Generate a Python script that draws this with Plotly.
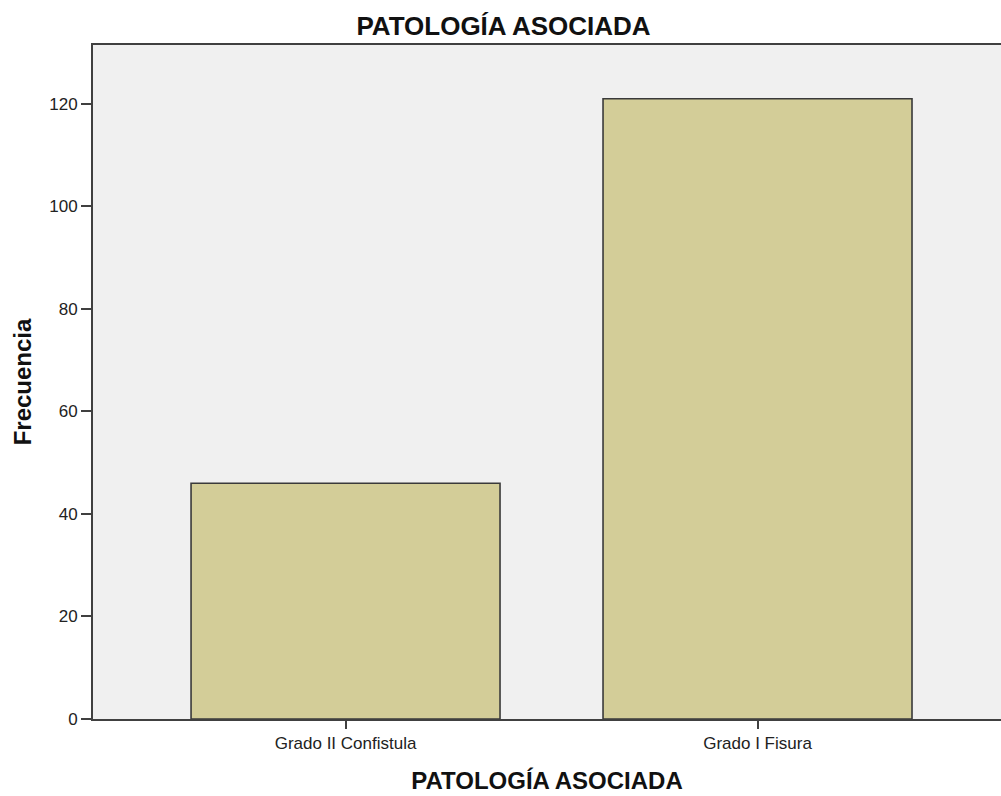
import plotly.graph_objects as go

# Frequency of associated pathology by grade
categorias = ["Grado II Confistula", "Grado I Fisura"]
frecuencias = [46, 121]
ticks_y = [0, 20, 40, 60, 80, 100, 120]

fig = go.Figure(
    go.Bar(
        x=categorias,
        y=frecuencias,
        width=0.75,
        marker=dict(color="#d3cd98", line=dict(color="#3a3a3a", width=1.6)),
        hoverinfo="x+y",
    )
)

font_family = "Liberation Sans, Arial, sans-serif"

fig.update_layout(
    width=1001,
    height=796,
    margin=dict(l=93, r=0, t=45, b=77),
    paper_bgcolor="white",
    plot_bgcolor="#f0f0f0",
    showlegend=False,
    title=dict(
        text="<b>PATOLOGÍA ASOCIADA</b>",
        x=0.503,
        xanchor="center",
        y=0.968,
        yanchor="middle",
        font=dict(family=font_family, size=26, color="#111111"),
    ),
    xaxis=dict(
        range=[-0.613, 1.591],
        showline=True,
        linecolor="#404040",
        linewidth=2,
        mirror=True,
        ticks="outside",
        ticklen=8,
        tickwidth=1.5,
        tickcolor="#404040",
        showgrid=False,
        tickfont=dict(family=font_family, size=17, color="#222222"),
        title=dict(
            text="<b>PATOLOGÍA ASOCIADA</b>",
            font=dict(family=font_family, size=24, color="#111111"),
            standoff=20,
        ),
    ),
    yaxis=dict(
        range=[0, 131.5],
        tickvals=ticks_y,
        showline=True,
        linecolor="#404040",
        linewidth=2,
        ticks="outside",
        ticklen=10,
        tickwidth=1.5,
        tickcolor="#404040",
        showgrid=False,
        zeroline=False,
        tickfont=dict(family=font_family, size=17, color="#222222"),
        title=dict(
            text="<b>Frecuencia</b>",
            font=dict(family=font_family, size=24, color="#111111"),
            standoff=11,
        ),
    ),
)

fig.write_html("out.html")
